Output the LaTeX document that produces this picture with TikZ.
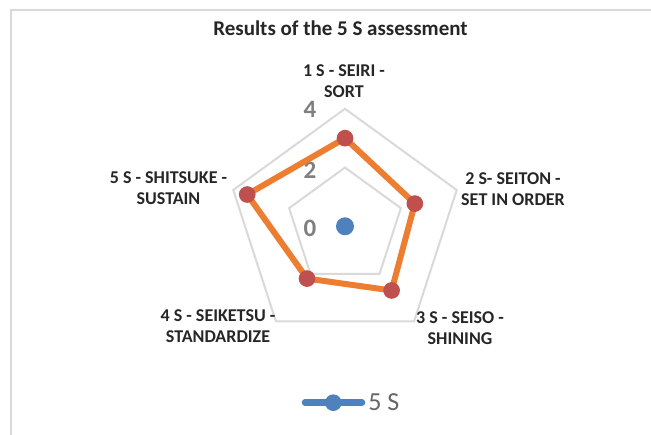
\documentclass[tikz,border=0pt]{standalone}
\usepackage{fontspec}
\setmainfont{Carlito}
\definecolor{gridgray}{HTML}{D9D9D9}
\definecolor{seriesorange}{HTML}{ED7D31}
\definecolor{markerred}{HTML}{C0504D}
\definecolor{seriesblue}{HTML}{4F81BD}
\definecolor{ticktext}{HTML}{7F7F7F}
\definecolor{legendtext}{HTML}{666666}
\definecolor{labeltext}{HTML}{262626}

\begin{document}
\begin{tikzpicture}[x=0.75pt,y=0.75pt,
    axislabel/.style={font=\fontsize{13.5}{15.4}\selectfont\bfseries,text=labeltext,align=center,inner sep=0pt},
    ticklabel/.style={font=\fontsize{18.75}{20}\selectfont\bfseries,text=ticktext,inner sep=0pt},
    gridline/.style={draw=gridgray,line width=1.5pt,line join=miter},
    marker/.style={circle,fill=markerred,inner sep=0pt,minimum size=12.5pt},
    bluedot/.style={circle,fill=seriesblue,inner sep=0pt,minimum size=#1}]
      \useasboundingbox (0,0) rectangle (651,435);
      % chart frame
      \coordinate (fa) at (11,0);
      \coordinate (fb) at (11,425);
      \coordinate (fc) at (651,425);
      \draw[gridgray,line width=1.5pt] (fa) -- (fb) -- (fc);

      \node[font=\fontsize{15.75}{18}\selectfont\bfseries,text=labeltext,inner sep=0pt] (title) at (340.5,406.6) {Results of the 5 S assessment};

      % grid (values 2 and 4)
      \coordinate (c) at (345,208.7);
      \foreach \r in {58.75,117.5}
        \draw[gridline,shift={(c)}] (90:\r) -- (18:\r) -- (-54:\r) -- (-126:\r) -- (162:\r) -- cycle;

      \node[ticklabel] (t4) at (310,326) {4};
      \node[ticklabel] (t2) at (310,265) {2};
      \node[ticklabel] (t0) at (310,206.7) {0};

      % series
      \foreach \a/\v [count=\i] in {90/3,18/2.5,-54/2.7,-126/2.2,162/3.5}
        \coordinate (p\i) at ([shift={(c)}]\a:{29.375*\v});
      \draw[seriesorange,line width=4.5pt,line join=round] (p1) -- (p2) -- (p3) -- (p4) -- (p5) -- cycle;
      \foreach \i in {1,...,5}
        \node[marker] (m\i) at (p\i) {};
      \node[bluedot=13.5pt] (zero) at (c) {};

      % axis names
      \node[axislabel] (seiri) at (344,354) {1 S - SEIRI -\\SORT};
      \node[axislabel] (seiton) at (513,246.1) {2 S- SEITON -\\SET IN ORDER};
      \node[axislabel] (seiso) at (460,107) {3 S - SEISO -\\SHINING};
      \node[axislabel] (seiketsu) at (218,109) {4 S - SEIKETSU -\\STANDARDIZE};
      \node[axislabel] (shitsuke) at (168.5,247) {5 S - SHITSUKE -\\SUSTAIN};

      % legend
      \coordinate (lga) at (305,32.3);
      \coordinate (lgb) at (362,32.3);
      \draw[seriesblue,line width=4.9pt,line cap=round] (lga) -- (lgb);
      \node[bluedot=12.5pt] (lgdot) at (333.3,32.3) {};
      \node[font=\fontsize{19.5}{22}\selectfont,text=legendtext,anchor=west,inner sep=0pt] (lgtext) at (368,32.5) {5 S};
\end{tikzpicture}
\end{document}
